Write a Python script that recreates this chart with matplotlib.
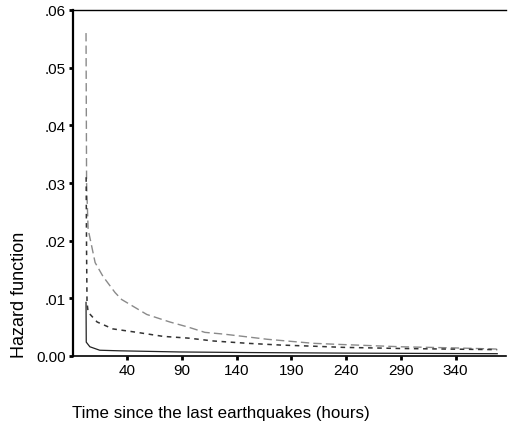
import matplotlib.pyplot as plt

# curve values
t_a = [2.5, 3.0, 4.4, 10.8, 18, 29, 35, 58, 79, 96, 111, 128, 146, 168, 186, 210, 235, 290, 340, 378]
h_a = [0.056, 0.030, 0.022, 0.0162, 0.0138, 0.011, 0.0098, 0.0072, 0.0059, 0.005, 0.0041, 0.0038,
       0.0034, 0.0029, 0.0026, 0.0022, 0.002, 0.0016, 0.0014, 0.0012]

t_b = [2.6, 3.0, 3.4, 4.4, 12.6, 27, 49, 73, 96, 119, 150, 180, 210, 237, 290, 378]
h_b = [0.031, 0.018, 0.0093, 0.0076, 0.0059, 0.0047, 0.0041, 0.0034, 0.0031, 0.0026, 0.0022,
       0.0019, 0.0017, 0.0015, 0.0013, 0.0011]

t_c = [2.5, 2.7, 6, 15, 33, 88, 150, 240, 378]
h_c = [0.0093, 0.0024, 0.0016, 0.001, 0.0009, 0.0007, 0.0006, 0.0005, 0.0004]

xticks = [40, 90, 140, 190, 240, 290, 340]
yticks = [0, 0.01, 0.02, 0.03, 0.04, 0.05, 0.06]
ylabels = ['0.00', '.01', '.02', '.03', '.04', '.05', '.06']

plt.rcParams['font.family'] = 'Liberation Sans'

fig = plt.figure(figsize=(5.09, 4.27), dpi=100)
ax = fig.add_axes([73/509, 70/427, 433/509, 346/427])

ax.plot(t_a, h_a, color='#8a8a8a', lw=1.0, ls=(0, (6, 3)))
ax.plot(t_b, h_b, color='#333333', lw=1.1, ls=(0, (3, 3)))
ax.plot(t_c, h_c, color='#222222', lw=0.9, ls='-')

ax.set_xlim(-9.4, 386)
ax.set_ylim(0, 0.06)
ax.set_xticks(xticks)
ax.set_yticks(yticks)
ax.set_yticklabels(ylabels)
ax.tick_params(direction='out', length=3, width=2, labelsize=11, pad=2)

ax.spines['right'].set_visible(False)
ax.spines['left'].set_linewidth(1.6)
ax.spines['bottom'].set_linewidth(1.2)
ax.spines['top'].set_linewidth(1.0)

fig.text(0.434, 0.031, 'Time since the last earthquakes (hours)', ha='center', va='center', fontsize=12.2)
fig.text(0.038, 0.31, 'Hazard function', rotation=90, ha='center', va='center', fontsize=13)

fig.savefig('out.png', dpi=100)
